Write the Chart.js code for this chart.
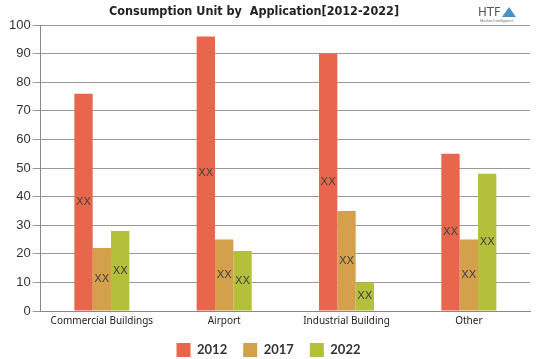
<!DOCTYPE html>
<html><head><meta charset="utf-8">
<script src="https://cdn.jsdelivr.net/npm/chart.js@4/dist/chart.umd.min.js"></script>
<style>html,body{margin:0;padding:0;background:#fff}#wrap{width:539px;height:359px}</style>
</head><body><div id="wrap"><canvas id="c" width="539" height="359"></canvas></div>
<script>
const categories = ["Commercial Buildings", "Airport", "Industrial Building", "Other"];
const seriesNames = ["2012", "2017", "2022"];
const values2012 = [76, 96, 90, 55];
const values2017 = [22, 25, 35, 25];
const values2022 = [28, 21, 10, 48];
const barLabel = "XX";
const titleText = "Consumption Unit by  Application[2012-2022]";
const yTicks = [0, 10, 20, 30, 40, 50, 60, 70, 80, 90, 100];
const colors = ["#E8674C", "#D4A04B", "#B5C03A"];

const labelPlugin = {
  id: 'xxLabels',
  afterDatasetsDraw(chart) {
    const ctx = chart.ctx;
    ctx.save();
    ctx.font = '11px "DejaVu Sans", sans-serif';
    ctx.fillStyle = '#444';
    ctx.textAlign = 'center';
    ctx.textBaseline = 'middle';
    chart.data.datasets.forEach((ds, i) => {
      chart.getDatasetMeta(i).data.forEach(bar => {
        ctx.fillText(barLabel, bar.x, (bar.y + bar.base) / 2);
      });
    });
    ctx.restore();
  }
};
const headerPlugin = {
  id: 'header',
  afterDraw(chart) {
    const ctx = chart.ctx;
    ctx.save();
    ctx.fillStyle = '#222';
    ctx.font = 'bold 12.5px "DejaVu Sans Condensed", "Liberation Sans Narrow", sans-serif';
    ctx.textAlign = 'center';
    ctx.textBaseline = 'middle';
    ctx.fillText(titleText, 254, 12);
    ctx.fillStyle = '#555';
    ctx.font = '13px "Liberation Sans Narrow", "DejaVu Sans Condensed", sans-serif';
    ctx.textAlign = 'left';
    ctx.textBaseline = 'alphabetic';
    ctx.fillText('HTF', 478, 16);
    ctx.fillStyle = '#4a90c8';
    ctx.beginPath();
    ctx.moveTo(502, 17); ctx.lineTo(509, 7); ctx.lineTo(516, 17); ctx.closePath();
    ctx.fill();
    ctx.fillStyle = '#777';
    ctx.font = '4px sans-serif';
    ctx.fillText('Market Intelligence', 480, 22);
    ctx.restore();
  }
};

new Chart(document.getElementById('c'), {
  type: 'bar',
  data: {
    labels: categories,
    datasets: [
      { label: seriesNames[0], data: values2012, backgroundColor: colors[0] },
      { label: seriesNames[1], data: values2017, backgroundColor: colors[1] },
      { label: seriesNames[2], data: values2022, backgroundColor: colors[2] }
    ]
  },
  options: {
    responsive: false,
    animation: false,
    devicePixelRatio: 1,
    layout: { padding: { left: 7, right: 9, top: 25, bottom: -8 } },
    datasets: { bar: { categoryPercentage: 0.45, barPercentage: 1.0 } },
    plugins: {
      title: { display: false },
      legend: {
        position: 'bottom',
        labels: {
          boxWidth: 14, boxHeight: 14, padding: 16,
          color: '#333',
          font: { family: 'Lato, "DejaVu Sans", sans-serif', size: 13, weight: 'bold' }
        }
      },
      tooltip: { enabled: false }
    },
    scales: {
      x: {
        grid: { display: false, drawTicks: true, tickLength: 4, color: '#888' },
        border: { color: '#888', width: 1 },
        ticks: { color: '#222', font: { family: '"Noto Sans", sans-serif', size: 10 }, padding: 0 }
      },
      y: {
        min: 0, max: 100,
        afterBuildTicks: s => { s.ticks = yTicks.map(v => ({ value: v })); },
        grid: { color: '#999', tickLength: 8 },
        border: { color: '#888', width: 1 },
        ticks: { color: '#333', font: { family: '"Liberation Sans", Arial, sans-serif', size: 13 }, padding: 2 }
      }
    }
  },
  plugins: [labelPlugin, headerPlugin]
});
</script></body></html>
